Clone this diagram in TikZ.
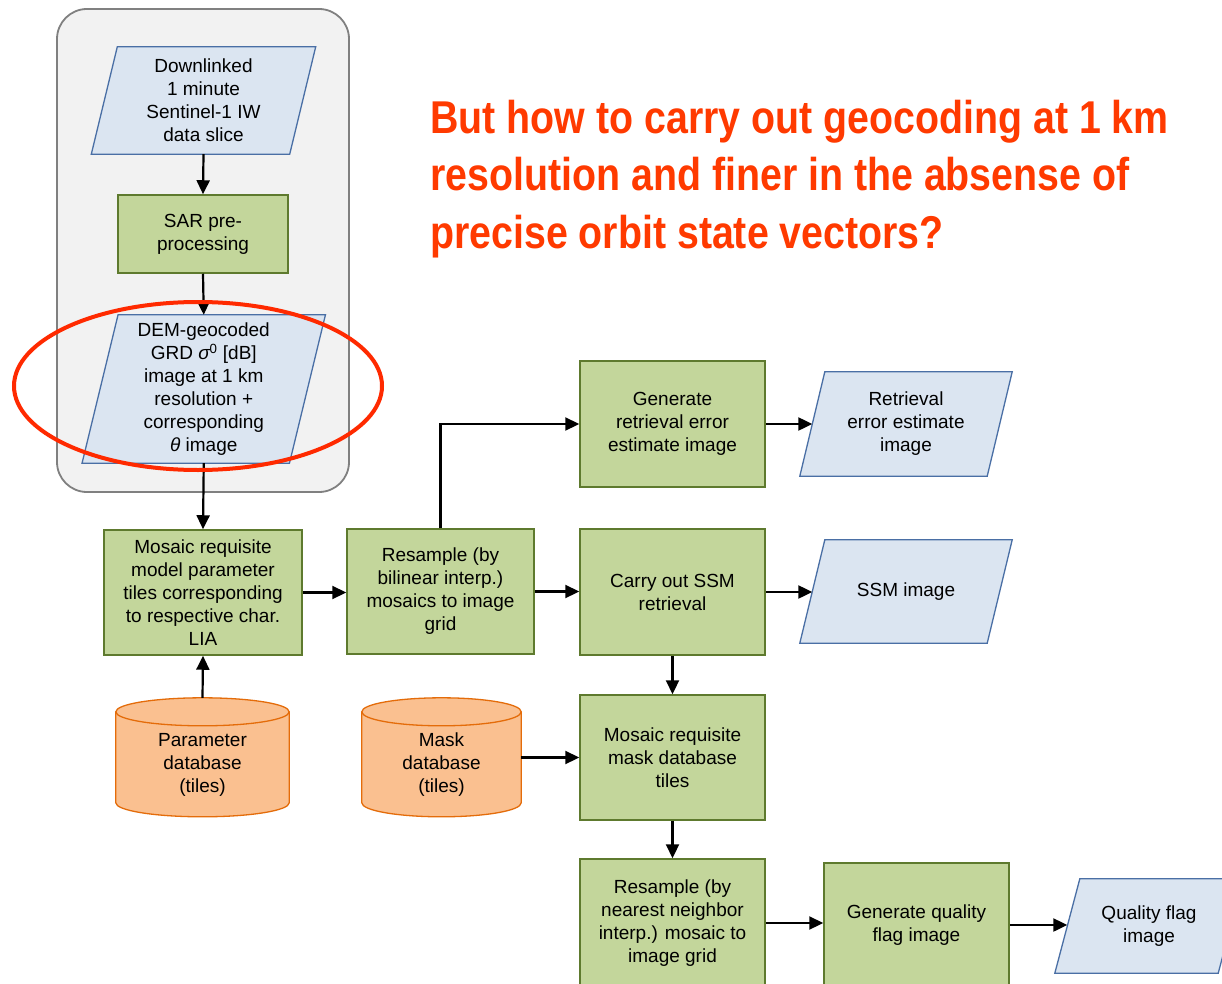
\documentclass[tikz,border=0pt]{standalone}
\usepackage{fontspec}
\setmainfont{Liberation Sans}
\newfontfamily\titlefont[FakeStretch=0.855]{Liberation Sans}
\usetikzlibrary{arrows.meta,calc}
\pgfdeclarelayer{back}
\pgfdeclarelayer{background}
\pgfsetlayers{back,background,main}
\definecolor{gfill}{HTML}{C3D69B}
\definecolor{gdraw}{HTML}{5E7A2E}
\definecolor{bfill}{HTML}{DBE5F1}
\definecolor{bdraw}{HTML}{4A6FA5}
\definecolor{ofill}{HTML}{FAC090}
\definecolor{odraw}{HTML}{E46C0A}
\definecolor{cfill}{HTML}{F2F2F2}
\definecolor{cdraw}{HTML}{808080}
\definecolor{titlered}{HTML}{FF3A00}
\definecolor{ellred}{HTML}{FF2A00}
\newcommand\bodyfont{\fontsize{19}{23}\selectfont}
\tikzset{
  proc/.style={draw=gdraw, fill=gfill, line width=1.5pt, align=center, inner sep=0pt, font=\bodyfont},
  datatext/.style={align=center, inner sep=0pt, font=\bodyfont},
  datashape/.style={draw=bdraw, fill=bfill, line width=1.3pt},
  dbtext/.style={align=center, inner sep=0pt, font=\bodyfont},
  dbshape/.style={draw=odraw, fill=ofill, line width=1.3pt},
  container/.style={draw=cdraw, fill=cfill, line width=1.8pt, rounded corners=30pt, inner sep=0pt},
  arr/.style={-{Triangle[length=14pt,width=13pt]}, line width=2.2pt},
  titletext/.style={anchor=base west, inner sep=0pt, text=titlered, font=\titlefont\bfseries\fontsize{46}{57}\selectfont},
  ring/.style={draw=ellred, line width=4pt}
}
% parallelogram around node #1 with horizontal slant #2
\newcommand\paral[2]{%
  \begin{pgfonlayer}{background}
  \draw[datashape] ($(#1.north west)+(#2/2,0)$) -- ($(#1.north east)+(#2/2,0)$)
     -- ($(#1.south east)-(#2/2,0)$) -- ($(#1.south west)-(#2/2,0)$) -- cycle;
  \end{pgfonlayer}}
% cylinder hanging from the top of node #1, total height #2 (pt)
\newcommand\cyl[2]{%
  \begin{pgfonlayer}{background}
  \draw[dbshape] let \p1=(#1.north west), \p2=(#1.north east), \n1={(\x2-\x1)/2} in
    (\x1,\y1-14pt) -- (\x1,\y1-#2pt+14pt) arc[start angle=180,end angle=360,x radius=\n1,y radius=14pt]
    -- (\x2,\y1-14pt) arc[start angle=0,end angle=180,x radius=\n1,y radius=14pt] -- cycle;
  \draw[dbshape, fill=none] let \p1=(#1.north west), \p2=(#1.north east), \n1={(\x2-\x1)/2} in
    (\x1,\y1-14pt) arc[start angle=180,end angle=360,x radius=\n1,y radius=14pt];
  \end{pgfonlayer}}
\begin{document}
\begin{tikzpicture}[x=1pt,y=-1pt]
\useasboundingbox (0,0) rectangle (1222,984);
\begin{pgfonlayer}{back}
  \fill[white] (0,0) rectangle (1222,984);
  \node[container, minimum width=292pt, minimum height=483pt] (grp) at (203,250.5) {};
\end{pgfonlayer}

% title
\node[titletext] (t1) at (430,134) {But how to carry out geocoding at 1 km};
\node[titletext] (t2) at (430,191) {resolution and finer in the absense of};
\node[titletext] (t3) at (430,248) {precise orbit state vectors?};

% data (parallelograms)
\node[datatext, minimum width=198pt, minimum height=107pt] (dl) at (203.5,100.5)
  {Downlinked\\1 minute\\Sentinel-1 IW\\data slice};
\paral{dl}{26}
\node[datatext, minimum width=207pt, minimum height=148pt] (dem) at (203.75,389)
  {DEM-geocoded\\GRD {\itshape σ}\textsuperscript{0} [dB]\\image at 1 km\\resolution +\\corresponding\\{\itshape θ} image};
\paral{dem}{36}
\node[datatext, minimum width=187pt, minimum height=104pt] (rerr) at (906,424)
  {Retrieval\\error estimate\\image};
\paral{rerr}{25}
\node[datatext, minimum width=187pt, minimum height=103pt] (ssmimg) at (906,591.5)
  {SSM image};
\paral{ssmimg}{25}
\node[datatext, minimum width=163pt, minimum height=94pt] (qflag) at (1149,926)
  {Quality flag\\image};
\paral{qflag}{25}

% process boxes
\node[proc, minimum width=170pt, minimum height=78pt] (sar) at (203,234) {SAR pre-\\processing};
\node[proc, minimum width=198pt, minimum height=125pt] (mos) at (203,592.5)
  {Mosaic requisite\\model parameter\\tiles corresponding\\to respective char.\\LIA};
\node[proc, minimum width=187pt, minimum height=125pt] (res1) at (440.5,591.5)
  {Resample (by\\bilinear interp.)\\mosaics to image\\grid};
\node[proc, minimum width=185pt, minimum height=126pt] (gen) at (672.5,424)
  {Generate\\retrieval error\\estimate image};
\node[proc, minimum width=185pt, minimum height=126pt] (ssm) at (672.5,592)
  {Carry out SSM\\retrieval};
\node[proc, minimum width=185pt, minimum height=125pt] (mask) at (672.5,757.5)
  {Mosaic requisite\\mask database\\tiles};
\node[proc, minimum width=185pt, minimum height=128pt] (res2) at (672.5,923)
  {Resample (by\\nearest neighbor\\interp.) mosaic to\\image grid};
\node[proc, minimum width=185pt, minimum height=124pt] (qual) at (916.5,925)
  {Generate quality\\flag image};

% databases (text node reaches from the cylinder top, text sits low as in the reference)
\node[dbtext, minimum width=173pt, minimum height=133pt] (pdb) at (202.5,764.5)
  {Parameter\\database\\(tiles)};
\cyl{pdb}{119}
\node[dbtext, minimum width=159pt, minimum height=133pt] (mdb) at (441.5,764.5)
  {Mask\\database\\(tiles)};
\cyl{mdb}{119}

% connectors
\draw[arr] (dl.south) -- (sar.north);
\draw[arr] (sar.south) -- (dem.north);
\draw[arr] (dem.south) -- (mos.north);
\draw[arr] (pdb.north) -- (mos.south);
\draw[arr] (mos.east) -- (mos.east -| res1.west);
\draw[arr] (res1.east) -- (res1.east -| ssm.west);
\draw[arr] (res1.north) |- (gen.west);
\draw[arr] (gen.east) -- (gen.east -| rerr.west);
\draw[arr] (ssm.east) -- (ssm.east -| ssmimg.west);
\draw[arr] (ssm.south) -- (mask.north);
\draw[arr] (mask.west -| mdb.east) -- (mask.west);
\draw[arr] (mask.south) -- (res2.north);
\draw[arr] (res2.east) -- (res2.east -| qual.west);
\draw[arr] (qual.east) -- (qual.east -| qflag.west);

% red highlight ring
\draw[ring] (198,386) ellipse [x radius=184pt, y radius=84pt];
\end{tikzpicture}
\end{document}
